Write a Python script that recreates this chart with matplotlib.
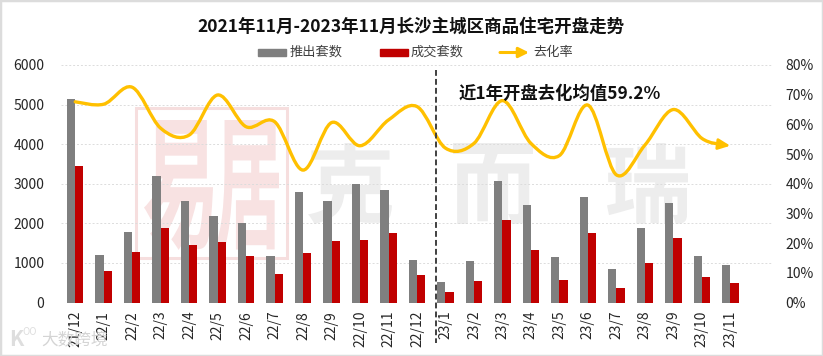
import numpy as np
import matplotlib
matplotlib.use('Agg')
from matplotlib import pyplot as plt
from matplotlib.path import Path
from matplotlib.patches import PathPatch, Rectangle
from matplotlib.textpath import TextPath
from matplotlib.font_manager import FontProperties
from matplotlib.transforms import Affine2D

plt.rcParams['font.family'] = ['Noto Sans CJK SC', 'DejaVu Sans']

title = '2021年11月-2023年11月长沙主城区商品住宅开盘走势'
months = ['21/12', '22/1', '22/2', '22/3', '22/4', '22/5', '22/6', '22/7', '22/8', '22/9', '22/10', '22/11',
          '22/12', '23/1', '23/2', '23/3', '23/4', '23/5', '23/6', '23/7', '23/8', '23/9', '23/10', '23/11']
launched = [5130, 1196, 1778, 3200, 2570, 2182, 1997, 1180, 2797, 2570, 2990, 2848,
            1070, 530, 1036, 3058, 2460, 1146, 2654, 842, 1879, 2519, 1180, 935]
sold = [3456, 792, 1280, 1879, 1457, 1533, 1180, 708, 1247, 1550, 1584, 1752,
        700, 270, 548, 2090, 1323, 565, 1752, 370, 986, 1634, 649, 489]
absorption = [67.6, 66.8, 72.5, 58.7, 56.4, 69.9, 59.2, 60.9, 44.6, 60.6, 52.8, 61.5,
              66.0, 52.0, 53.6, 68.0, 53.6, 49.5, 66.5, 43.0, 53.0, 65.0, 55.3, 52.8]

W, H = 823, 356
GRAY = '#7f7f7f'
RED = '#c00000'
GOLD = '#ffc000'
TEXT = '#262626'


# pixel position in the picture -> figure fraction
def fx(px):
    return px / W


def fy(py):
    return 1 - py / H


def smooth_path(xs, ys):
    # same kind of smoothing as an office chart line, control points from neighbours
    verts = [(xs[0], ys[0])]
    codes = [Path.MOVETO]
    n = len(xs)
    for i in range(n - 1):
        p0 = max(i - 1, 0)
        p3 = min(i + 2, n - 1)
        verts.append((xs[i] + (xs[i + 1] - xs[p0]) / 6, ys[i] + (ys[i + 1] - ys[p0]) / 6))
        verts.append((xs[i + 1] - (xs[p3] - xs[i]) / 6, ys[i + 1] - (ys[p3] - ys[i]) / 6))
        verts.append((xs[i + 1], ys[i + 1]))
        codes += [Path.CURVE4, Path.CURVE4, Path.CURVE4]
    return Path(verts, codes)


def watermark(ch, left, top, right, bottom, color):
    # glyph stretched into a pixel box
    tp = TextPath((0, 0), ch, size=100, prop=FontProperties(family='Noto Sans CJK SC', weight='bold'))
    box = tp.get_extents()
    tr = (Affine2D().translate(-box.x0, -box.y0)
          .scale((right - left) / box.width / W, (bottom - top) / box.height / H)
          .translate(fx(left), fy(bottom)) + fig.transFigure)
    fig.add_artist(PathPatch(tp, transform=tr, fc=color, ec='none', zorder=0))


fig = plt.figure(figsize=(W / 100, H / 100), dpi=100)
ax = fig.add_axes([fx(61), fy(302.5), fx(773 - 61), (302.5 - 65) / H])
ax2 = ax.twinx()
ax.set_zorder(2)
ax2.set_zorder(3)
ax.patch.set_alpha(0)
ax2.patch.set_alpha(0)

x = np.arange(len(months))
bar_w = 0.29

# watermarks go under everything else
fig.add_artist(Rectangle((fx(136), fy(258)), 151 / W, 150 / H, transform=fig.transFigure,
                         fill=False, ec='#f6dede', lw=2.2, zorder=0))
watermark('易', 144, 120, 213, 250, '#f8e2e2')
watermark('居', 217, 120, 279, 250, '#f8e2e2')
watermark('克', 308, 143, 392, 224, '#ededed')
watermark('而', 453, 143, 533, 224, '#ededed')
watermark('瑞', 607, 143, 688, 224, '#ededed')

ax.bar(x - bar_w / 2, launched, bar_w, color=GRAY, zorder=3)
ax.bar(x + bar_w / 2, sold, bar_w, color=RED, zorder=3)
ax.set_xlim(-0.5, 24.5)
ax.set_ylim(0, 6000)
ax.set_yticks(range(0, 6001, 1000))
ax.set_xticks(x)
ax.set_xticklabels(months, rotation=90, fontsize=10, color=TEXT)
ax.tick_params(axis='x', length=0, pad=6)
ax.tick_params(axis='y', length=0, pad=12, labelsize=10, labelcolor=TEXT)
ax.grid(axis='y', color='#dcdcdc', lw=0.7, ls=(0, (2, 2)), zorder=0)
for s in ax.spines.values():
    s.set_visible(False)

ax2.set_ylim(0, 80)
ax2.set_yticks(range(0, 81, 10))
ax2.set_yticklabels([f'{v}%' for v in range(0, 81, 10)])
ax2.tick_params(axis='y', length=0, pad=9, labelsize=10, labelcolor=TEXT)
for s in ax2.spines.values():
    s.set_visible(False)

ax2.add_patch(PathPatch(smooth_path(x[:-1].tolist() + [x[-1] - 0.25], absorption[:-1] + [absorption[-1] + 0.3]),
                        fill=False, ec=GOLD, lw=2.4, capstyle='round', zorder=5))
ax2.annotate('', xy=(x[-1], absorption[-1]), xytext=(x[-1] - 0.4, absorption[-1] + 0.5),
             arrowprops=dict(arrowstyle='-|>,head_width=0.32,head_length=0.7', color=GOLD, lw=2, shrinkA=0, shrinkB=0),
             zorder=6)

# split between the last 12 months and before
ax2.plot([fx(436)] * 2, [fy(70), fy(343)], transform=fig.transFigure, clip_on=False,
         color='#404040', lw=1.4, ls=(0, (3, 1.6)), zorder=6)

fig.text(fx(459), fy(94), '近1年开盘去化均值59.2%', fontsize=12.5, fontweight='bold', color='#111111',
         va='center', ha='left', zorder=7)
fig.text(fx(411), fy(27), title, fontsize=12.6, fontweight='bold', color='#111111', ha='center', va='center',
         zorder=7)

# legend by hand so the pieces sit where they do in the original
fig.add_artist(Rectangle((fx(258), fy(56)), 28 / W, 7 / H, transform=fig.transFigure, color=GRAY, zorder=7))
fig.add_artist(Rectangle((fx(380), fy(56)), 28 / W, 7 / H, transform=fig.transFigure, color=RED, zorder=7))
ax.annotate('', xy=(fx(529), fy(52.5)), xytext=(fx(500), fy(52.5)), xycoords='figure fraction',
            textcoords='figure fraction',
            arrowprops=dict(arrowstyle='-|>,head_width=0.3,head_length=0.6', color=GOLD, lw=2.2, shrinkA=0, shrinkB=0))
for px, label in zip([290, 411, 533], ['推出套数', '成交套数', '去化率']):
    fig.text(fx(px), fy(52.5), label, fontsize=9.5, color='#404040', va='center', ha='left', zorder=7)

# logo mark at the lower left, it sits over the first tick label in the original too
fig.text(fx(41), fy(341), '大数跨境', fontsize=12, color='#d4d4d4', ha='left', va='center', zorder=8)
fig.text(fx(9), fy(339), 'K', fontsize=15, color='#dedede', ha='left', va='center', fontweight='bold', zorder=8)
fig.text(fx(22), fy(332), 'OO', fontsize=7, color='#dedede', ha='left', va='center', zorder=8)

# thin frame round the screenshot
fig.add_artist(Rectangle((0, 0), 1, 1, transform=fig.transFigure, fill=False, ec='#dcdcdc', lw=2.5, zorder=9))

fig.savefig('out.png', dpi=100)
